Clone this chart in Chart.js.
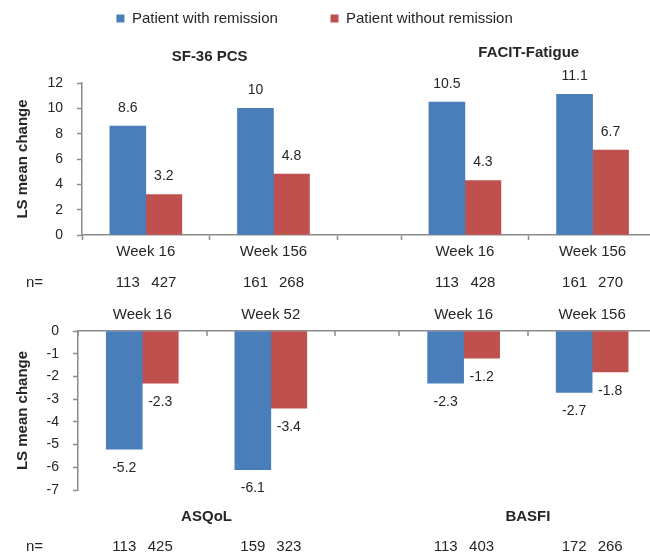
<!DOCTYPE html>
<html>
<head>
<meta charset="utf-8">
<title>LS mean change by remission status</title>
<script src="https://cdn.jsdelivr.net/npm/chart.js@4.4.1/dist/chart.umd.min.js"></script>
<style>
	html, body { margin: 0; padding: 0; background: #fff; }
	.panel { position: absolute; left: 0; width: 650px; }
</style>
</head>
<body>
<div class="panel" style="top:0;height:290px"><canvas id="upper"></canvas></div>
<div class="panel" style="top:290px;height:267px"><canvas id="lower"></canvas></div>
<script>
var seriesNames = ['Patient with remission', 'Patient without remission'];

var upperPanels = ['SF-36 PCS', 'FACIT-Fatigue'];
var upperWeeks = ['Week 16', 'Week 156', 'Week 16', 'Week 156'];
var upperRemission = [8.6, 10, 10.5, 11.1];
var upperNoRemission = [3.2, 4.8, 4.3, 6.7];
var upperNRemission = [113, 161, 113, 161];
var upperNNoRemission = [427, 268, 428, 270];

var lowerPanels = ['ASQoL', 'BASFI'];
var lowerWeeks = ['Week 16', 'Week 52', 'Week 16', 'Week 156'];
var lowerRemission = [-5.2, -6.1, -2.3, -2.7];
var lowerNoRemission = [-2.3, -3.4, -1.2, -1.8];
var lowerNRemission = [113, 159, 113, 172];
var lowerNNoRemission = [425, 323, 403, 266];

(function () {
	var BLUE = '#4a7ebb', RED = '#c0504d', AXIS = '#8c8c8c', INK = '#262626';
	var FONT = "'Liberation Sans', Arial, sans-serif";
	Chart.defaults.font.family = FONT;
	Chart.defaults.color = INK;

	// x layout in slot units: two groups per panel, one empty slot between panels
	var groupAt = [1, 3, 6, 8];
	var edgesAt = [0, 2, 4, 5, 7];
	var panelAt = [2, 7];

	function points(values) {
		return values.map(function (v, i) { return { x: groupAt[i], y: v }; });
	}

	function notes(cfg) {
		return {
			id: 'notes',
			afterDatasetsDraw: function (chart) {
				var ctx = chart.ctx, xs = chart.scales.x;
				var a = chart.getDatasetMeta(0), b = chart.getDatasetMeta(1);
				ctx.save();
				ctx.fillStyle = INK;
				ctx.textAlign = 'center';
				ctx.textBaseline = 'middle';

				ctx.font = '14px ' + FONT;
				[a, b].forEach(function (meta, d) {
					var data = chart.data.datasets[d].data;
					meta.data.forEach(function (bar, i) {
						var v = data[i].y;
						ctx.fillText(String(v), bar.x, v >= 0 ? bar.y - 18 : bar.y + 19);
					});
				});

				ctx.font = '15px ' + FONT;
				a.data.forEach(function (bar, i) {
					ctx.fillText(String(cfg.nA[i]), bar.x, cfg.nY);
					ctx.fillText(String(cfg.nB[i]), b.data[i].x, cfg.nY);
				});
				ctx.textAlign = 'left';
				ctx.fillText('n=', 26, cfg.nY);

				ctx.textAlign = 'center';
				ctx.font = 'bold 15px ' + FONT;
				cfg.panels.forEach(function (t, k) {
					ctx.fillText(t, xs.getPixelForValue(panelAt[k]), cfg.titleY[k]);
				});

				if (cfg.innerTicks) {
					ctx.strokeStyle = AXIS;
					ctx.lineWidth = 1.5;
					edgesAt.forEach(function (v) {
						var px = Math.round(xs.getPixelForValue(v));
						ctx.beginPath();
						ctx.moveTo(px, xs.bottom);
						ctx.lineTo(px, xs.bottom + 5);
						ctx.stroke();
					});
				}
				ctx.restore();
			}
		};
	}

	function makeChart(id, o) {
		return new Chart(document.getElementById(id), {
			type: 'bar',
			data: {
				datasets: [
					{ label: seriesNames[0], data: points(o.a), backgroundColor: BLUE, barThickness: 36 },
					{ label: seriesNames[1], data: points(o.b), backgroundColor: RED, barThickness: 36 }
				]
			},
			options: {
				responsive: true,
				maintainAspectRatio: false,
				animation: false,
				layout: { padding: { left: 0, right: 0, top: 0, bottom: o.padBottom } },
				plugins: {
					tooltip: { enabled: false },
					// empty title below the legend keeps room for the panel headings
					title: {
						display: o.legend,
						text: '',
						weight: 500,
						font: { size: 15 },
						padding: { top: 29, bottom: 0 }
					},
					legend: {
						display: o.legend,
						position: 'top',
						labels: {
							boxWidth: 8,
							boxHeight: 8,
							padding: 11,
							color: INK,
							font: { size: 15 },
							generateLabels: function (chart) {
								var items = Chart.defaults.plugins.legend.labels.generateLabels(chart);
								// trailing room so the two entries sit apart like the original
								items[0].text += '          ';
								items[1].text += '     ';
								items.forEach(function (it) { it.lineWidth = 0; });
								return items;
							}
						}
					}
				},
				scales: {
					x: {
						type: 'linear',
						position: o.xPos,
						min: 0,
						max: 8.9,
						offset: false,
						afterBuildTicks: function (s) {
							s.ticks = [0, 1, 2, 3, 4, 5, 6, 7, 8].map(function (v) { return { value: v }; });
						},
						afterFit: function (s) { s.height = o.xHeight; },
						grid: {
							drawOnChartArea: false,
							offset: false,
							drawTicks: o.xPos === 'bottom',
							tickLength: 5,
							tickWidth: 1.5,
							tickColor: function (c) {
								return edgesAt.indexOf(c.tick.value) >= 0 ? AXIS : 'rgba(0,0,0,0)';
							}
						},
						border: { color: AXIS, width: 1.5 },
						ticks: {
							autoSkip: false,
							maxRotation: 0,
							padding: o.xPad,
							color: INK,
							font: { size: 15 },
							callback: function (v) {
								var i = groupAt.indexOf(v);
								return i >= 0 ? o.weeks[i] : '';
							}
						}
					},
					y: {
						min: o.min,
						max: o.max,
						afterFit: function (s) { s.width = o.yWidth; },
						grid: { drawOnChartArea: false, tickLength: 5, color: AXIS, tickWidth: 1.5 },
						border: { color: AXIS, width: 1.5 },
						ticks: { stepSize: o.step, padding: 14, color: INK, font: { size: 14 } },
						title: {
							display: true,
							text: 'LS mean change',
							color: INK,
							font: { size: 15, weight: 'bold' },
							padding: { top: 14, bottom: 0 }
						}
					}
				}
			},
			plugins: [notes(o.notes)]
		});
	}

	makeChart('upper', {
		a: upperRemission, b: upperNoRemission, weeks: upperWeeks,
		min: 0, max: 12, step: 2,
		legend: true, xPos: 'bottom', xHeight: 55, xPad: 3,
		yWidth: 82, padBottom: 0,
		notes: { panels: upperPanels, titleY: [57, 53], nY: 283,
			nA: upperNRemission, nB: upperNNoRemission, innerTicks: false }
	});

	makeChart('lower', {
		a: lowerRemission, b: lowerNoRemission, weeks: lowerWeeks,
		min: -7, max: 0, step: 1,
		legend: false, xPos: 'top', xHeight: 41, xPad: 7,
		yWidth: 78, padBottom: 67,
		notes: { panels: lowerPanels, titleY: [227, 227], nY: 257,
			nA: lowerNRemission, nB: lowerNNoRemission, innerTicks: true }
	});
})();
</script>
</body>
</html>
